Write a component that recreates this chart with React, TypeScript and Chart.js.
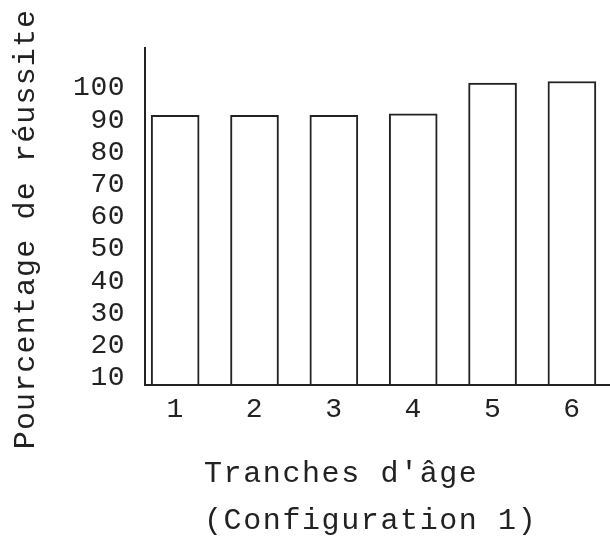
import { useEffect, useRef } from 'react';
import { Chart, registerables } from 'chart.js';

Chart.register(...registerables);

// ---- Data ----
const categories = [1, 2, 3, 4, 5, 6];
const tickLabels = ['1', '2', '3', '4', '5', '6'];
const successRates = [91.5, 91.5, 91.5, 92, 101.5, 102];
const yTickValues = [10, 20, 30, 40, 50, 60, 70, 80, 90, 100];
const yTitle = 'Pourcentage de réussite';
const xTitle = "Tranches d'âge";
const subtitle = '(Configuration 1)';

// ---- Styles ----
const INK = '#222222';
const FONT = '"Liberation Mono", "DejaVu Sans Mono", monospace';

const typewriterPlugin = {
  id: 'typewriter',
  beforeDraw(chart: any) {
    (chart.ctx as any).letterSpacing = '0.5px';
  },
  afterDraw(chart: any) {
    const ctx = chart.ctx as any;
    ctx.save();
    ctx.letterSpacing = '1.6px';
    ctx.fillStyle = INK;
    ctx.font = `30px ${FONT}`;
    ctx.textBaseline = 'middle';
    ctx.textAlign = 'left';
    ctx.fillText(xTitle, 204, 474);
    ctx.fillText(subtitle, 204, 521);
    ctx.letterSpacing = '1.15px';
    ctx.translate(26, 229);
    ctx.rotate(-Math.PI / 2);
    ctx.textAlign = 'center';
    ctx.fillText(yTitle, 0, 0);
    ctx.restore();
    ctx.letterSpacing = '0px';
  },
};

export default function App() {
  const canvasRef = useRef<HTMLCanvasElement | null>(null);

  useEffect(() => {
    if (!canvasRef.current) return;
    const chart = new Chart(canvasRef.current, {
      type: 'bar',
      data: {
        datasets: [
          {
            data: categories.map((c, i) => ({ x: c, y: successRates[i] })),
            backgroundColor: '#ffffff',
            borderColor: INK,
            borderWidth: 2,
            borderSkipped: 'bottom',
            barThickness: 48,
          },
        ],
      },
      options: {
        responsive: false,
        animation: false,
        layout: { padding: { top: 48, left: 0, right: 0, bottom: 0 } },
        plugins: {
          legend: { display: false },
          tooltip: { enabled: false },
        },
        scales: {
          x: {
            type: 'linear',
            offset: false,
            z: 1,
            min: 0.62,
            max: 6.48,
            grid: { display: false, drawTicks: false },
            border: { display: true, color: INK, width: 2, z: 1 },
            afterBuildTicks: (s: any) => {
              s.ticks = categories.map((v) => ({ value: v }));
            },
            afterFit: (s: any) => {
              s.height = 155;
            },
            ticks: {
              autoSkip: false,
              maxRotation: 0,
              padding: 8,
              color: INK,
              font: { family: FONT, size: 28 },
              callback: (v: any) => {
                const i = categories.indexOf(Number(v));
                return i >= 0 ? tickLabels[i] : '';
              },
            },
          },
          y: {
            type: 'linear',
            z: 1,
            min: 7.8,
            max: 112.4,
            grid: { display: false, drawTicks: false },
            border: { display: true, color: INK, width: 2, z: 1 },
            afterBuildTicks: (s: any) => {
              s.ticks = yTickValues.map((v) => ({ value: v }));
            },
            afterFit: (s: any) => {
              s.width = 145;
            },
            ticks: {
              padding: 20,
              color: INK,
              font: { family: FONT, size: 28 },
            },
          },
        },
      },
      plugins: [typewriterPlugin],
    } as any);
    return () => chart.destroy();
  }, []);

  return (
    <div style={{ position: 'absolute', left: 0, top: 0, width: 610, height: 540, background: '#fff' }}>
      <canvas ref={canvasRef} width={610} height={540} style={{ display: 'block' }} />
    </div>
  );
}
